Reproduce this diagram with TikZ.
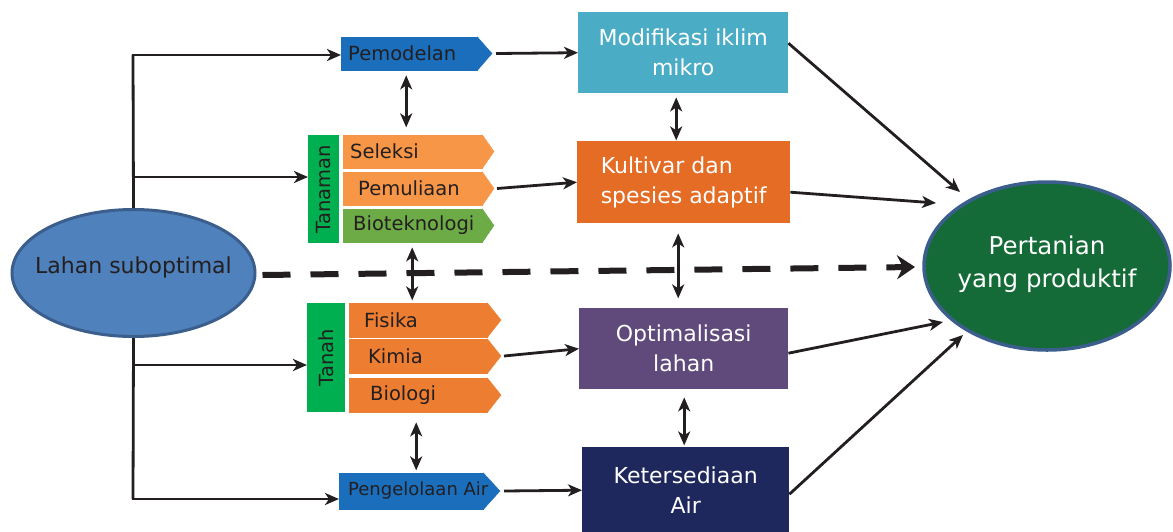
\documentclass[tikz,border=0pt]{standalone}
\usepackage{fontspec}
\setmainfont{DejaVu Sans}
\usetikzlibrary{arrows.meta,shapes.geometric}
\definecolor{lblue}{HTML}{4F81BD}
\definecolor{eborder}{HTML}{3B5E8C}
\definecolor{tblue}{HTML}{1A6EBC}
\definecolor{tgreen}{HTML}{00B050}
\definecolor{lorange}{HTML}{F79646}
\definecolor{lgreen}{HTML}{6DAB47}
\definecolor{dorange}{HTML}{ED7D31}
\definecolor{cmod}{HTML}{4BACC6}
\definecolor{ckult}{HTML}{E46C24}
\definecolor{copt}{HTML}{604A7B}
\definecolor{cket}{HTML}{1F285C}
\definecolor{cpert}{HTML}{156B37}
\definecolor{ink}{HTML}{231F20}
\newcommand\mytag[9]{%
  \node[tagbody, fill=#7, draw=#7, minimum width={#3-#2}, minimum height={#6-#5}, anchor=north west] (#1) at (#2,#5) {};
  \fill[#7, draw=#7, line width=0.4pt] (#1.north east) -- (#4,{(#5+#6)/2}) -- (#1.south east) -- cycle;
  \coordinate (#1-e) at (#4,{(#5+#6)/2});
  \node[tagtext, anchor=west] (#1-t) at (#8,{(#5+#6)/2}) {#9};
}
\begin{document}
\begin{tikzpicture}[x=1pt,y=-1pt,
  tagbody/.style={rectangle, inner sep=0pt, line width=0.4pt},
  tagtext/.style={inner sep=0pt, text=ink, font=\fontsize{19.5}{24}\selectfont},
  rbox/.style={rectangle, inner sep=0pt, text=white, font=\fontsize{22}{30}\selectfont, anchor=north west},
  conn/.style={line width=2.8pt, draw=ink},
  tip/.style={Stealth[length=14pt,width=12pt,inset=4pt]},
  arr/.style={conn, -{Stealth[length=14pt,width=12pt,inset=4pt]}},
  darr/.style={conn, {Stealth[length=14pt,width=12pt,inset=4pt]}-{Stealth[length=14pt,width=12pt,inset=4pt]}},
  dasharr/.style={line width=6pt, draw=ink, dash pattern=on 28pt off 20pt, -{Stealth[length=18pt,width=24pt,inset=6pt]}}
]
\useasboundingbox (0,0) rectangle (1173,531);

% left ellipse
\node[ellipse, minimum width=243, minimum height=127, inner sep=0pt, fill=lblue, draw=eborder, line width=3pt] (L) at (133.5,273) {};
\node[inner sep=0pt, text=ink, font=\fontsize{22}{26}\selectfont] (Lt) at ([yshift=6pt]L.center) {Lahan suboptimal};

% right ellipse
\node[ellipse, minimum width=246, minimum height=168, inner sep=0pt, fill=cpert, draw=eborder, line width=3.5pt] (P) at (1047,266) {};
\node[inner sep=0pt, text=white, align=center, font=\fontsize{24.5}{33}\selectfont] (Pt) at ([yshift=2pt]P.center) {Pertanian\\yang produktif};

% tags
\mytag{pemB}{341}{477}{492}{37}{70}{tblue}{348}{Pemodelan}
\mytag{selB}{343}{482}{494}{135}{168}{lorange}{350}{Seleksi}
\mytag{pmlB}{343}{482}{494}{172}{205}{lorange}{358}{Pemuliaan}
\mytag{bioB}{343}{482}{494}{209}{242}{lgreen}{353}{Bioteknologi}
\mytag{fisB}{349}{487}{501}{303}{337}{dorange}{364}{Fisika}
\mytag{kimB}{349}{487}{501}{339}{373}{dorange}{368}{Kimia}
\mytag{bilB}{349}{487}{501}{378}{412}{dorange}{370}{Biologi}
\mytag{paB}{339}{483}{500}{473}{509}{tblue}{348}{\fontsize{18}{22}\selectfont Pengelolaan Air}

% green group labels
\node[tagbody, fill=tgreen, minimum width=31, minimum height=108, anchor=north west] (tanB) at (308,135) {};
\node[tagtext, rotate=90] (tanT) at (tanB.center) {Tanaman};
\node[tagbody, fill=tgreen, minimum width=38, minimum height=109, anchor=north west] (tahB) at (307,303) {};
\node[tagtext, rotate=90] (tahT) at (tahB.center) {Tanah};

% right boxes
\node[rbox, fill=cmod, minimum width=210, minimum height=81, align=center] (mod) at (578,12) {Modifikasi iklim\\mikro};
\node[rbox, fill=ckult, minimum width=213, minimum height=82, align=left] (kult) at (577,141) {Kultivar dan\\spesies adaptif};
\node[rbox, fill=copt, minimum width=209, minimum height=81, align=center] (opt) at (579,308) {Optimalisasi\\lahan};
\node[rbox, fill=cket, minimum width=207, minimum height=86, align=center] (ket) at (582,447) {Ketersediaan\\Air};

% left bracket
\coordinate (jt) at (133,55);
\coordinate (jtan) at (133,177);
\coordinate (jtah) at (133,365);
\coordinate (jb) at (133,499);
\draw[conn] (L.north) -- (jt);
\draw[conn] (L.south) -- (jb);
\draw[arr] ([xshift=-1.4pt]jt) -- (pemB.west |- jt);
\draw[arr] (jtan) -- (tanB.west |- jtan);
\draw[arr] (jtah) -- (tahB.west |- jtah);
\draw[arr] ([xshift=-1.4pt]jb) -- (paB.west |- jb);

% tag to box arrows
\draw[arr] ([xshift=4pt]pemB-e) -- (mod.west);
\draw[arr] ([xshift=3pt]pmlB-e) -- (kult.west);
\draw[arr] ([xshift=3pt]kimB-e) -- (opt.west);
\draw[arr] ([xshift=4pt]paB-e) -- (ket.west);

% vertical double arrows
\draw[darr] ([xshift=-3pt,yshift=-5pt]pemB.south) -- ++(0,52);
\draw[darr] ([xshift=-0.5pt,yshift=-5pt]bioB.south) -- ++(0,53);
\draw[darr] ([xshift=-2pt,yshift=-10pt]bilB.south) -- ++(0,48);
\draw[darr] ([xshift=-7pt,yshift=-4pt]mod.south) -- ++(0,43);
\draw[darr] ([xshift=-5.5pt,yshift=-10pt]kult.south) -- ++(0,65);
\draw[darr] ([xshift=0.5pt,yshift=-8pt]opt.south) -- ++(0,48);

% dashed main arrow
\draw[dasharr] ([xshift=6pt,yshift=-2pt]L.east) -- ([shift={(-132,1)}]P.center);

% arrows into the goal
\draw[arr] ([yshift=9.5pt]mod.east) -- ([shift={(-87,-74)}]P.center);
\draw[arr] ([yshift=-10pt]kult.east) -- ([shift={(-111,-63)}]P.center);
\draw[arr] ([yshift=-4.5pt]opt.east) -- ([shift={(-104,56)}]P.center);
\draw[arr] ([yshift=-4pt]ket.east) -- ([shift={(-84,69)}]P.center);
\end{tikzpicture}
\end{document}
